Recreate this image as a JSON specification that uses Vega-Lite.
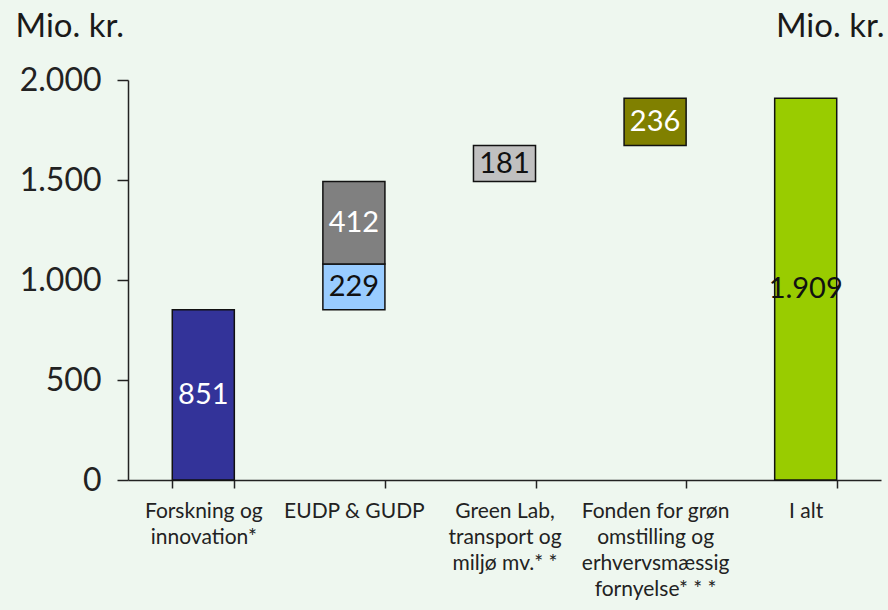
{
  "$schema": "https://vega.github.io/schema/vega-lite/v6.json",
  "width": 753,
  "height": 400,
  "autosize": {"type": "none"},
  "padding": {"left": 128, "top": 80, "right": 7, "bottom": 130},
  "background": "#eef7ef",
  "config": {"view": {"stroke": null}, "font": "Lato"},
  "data": {
    "values": [
      {"kategori": "Forskning og|innovation*", "id": "a", "fra": 0, "til": 851, "etiket": "851"},
      {"kategori": "EUDP & GUDP", "id": "b", "fra": 851, "til": 1080, "etiket": "229"},
      {"kategori": "EUDP & GUDP", "id": "c", "fra": 1080, "til": 1492, "etiket": "412"},
      {"kategori": "Green Lab,|transport og|miljø mv.* *", "id": "d", "fra": 1492, "til": 1673, "etiket": "181"},
      {"kategori": "Fonden for grøn|omstilling og|erhvervsmæssig|fornyelse* * *", "id": "e", "fra": 1673, "til": 1909, "etiket": "236"},
      {"kategori": "I alt", "id": "f", "fra": 0, "til": 1909, "etiket": "1.909"}
    ]
  },
  "resolve": {"axis": {"y": "independent"}},
  "layer": [
    {
      "mark": {"type": "bar", "stroke": "#111111", "strokeWidth": 1.5},
      "encoding": {
        "x": {
          "field": "kategori", "type": "nominal", "sort": null,
          "scale": {"paddingInner": 0.588, "paddingOuter": 0.294},
          "axis": {
            "title": null, "labelAngle": 0, "tickBand": "extent",
            "domainColor": "#222222", "domainWidth": 1.5,
            "tickColor": "#222222", "tickWidth": 1.5, "tickSize": 8,
            "labelExpr": "split(datum.label, '|')",
            "labelFontSize": 21, "labelColor": "#222222", "labelLineHeight": 26,
            "labelPadding": 12, "labelLimit": 300, "labelOverlap": false,
            "labelBaseline": "top", "labelAlign": "center"
          }
        },
        "y": {
          "field": "fra", "type": "quantitative",
          "scale": {"domain": [0, 2000], "nice": false},
          "axis": {
            "values": [0, 500, 1000, 1500, 2000], "grid": false,
            "labelExpr": "replace(format(datum.value, ','), ',', '.')",
            "labelFontSize": 32, "labelColor": "#222222", "labelPadding": 16,
            "domainColor": "#222222", "domainWidth": 1.5,
            "tickColor": "#222222", "tickWidth": 1.5, "tickSize": 11,
            "title": "Mio. kr.", "titleAngle": 0, "titleFontSize": 33,
            "titleFontWeight": "normal", "titleColor": "#1a1a1a",
            "titleAlign": "left", "titleBaseline": "alphabetic",
            "titleX": -113, "titleY": -44
          }
        },
        "y2": {"field": "til"},
        "color": {
          "field": "id", "type": "nominal", "legend": null,
          "scale": {"domain": ["a", "b", "c", "d", "e", "f"], "range": ["#333399", "#99ccff", "#808080", "#c0c0c0", "#808000", "#99cc00"]}
        }
      }
    },
    {
      "transform": [{"calculate": "(datum.fra + datum.til) / 2", "as": "midt"}],
      "mark": {"type": "text", "fontSize": 29, "align": "center", "baseline": "middle"},
      "encoding": {
        "x": {"field": "kategori", "type": "nominal", "sort": null},
        "y": {"field": "midt", "type": "quantitative", "axis": null},
        "text": {"field": "etiket"},
        "color": {
          "condition": {"test": "indexof(['a','c','e'], datum.id) >= 0", "value": "#ffffff"},
          "value": "#111111"
        }
      }
    },
    {
      "mark": {"type": "tick", "opacity": 0},
      "encoding": {
        "x": {"field": "kategori", "type": "nominal", "sort": null},
        "y": {
          "field": "til", "type": "quantitative",
          "axis": {
            "orient": "right", "labels": false, "ticks": false, "domain": false, "grid": false,
            "title": "Mio. kr.", "titleAngle": 0, "titleFontSize": 33,
            "titleFontWeight": "normal", "titleColor": "#1a1a1a",
            "titleAlign": "right", "titleBaseline": "alphabetic",
            "titleX": 3, "titleY": -44
          }
        }
      }
    }
  ]
}
